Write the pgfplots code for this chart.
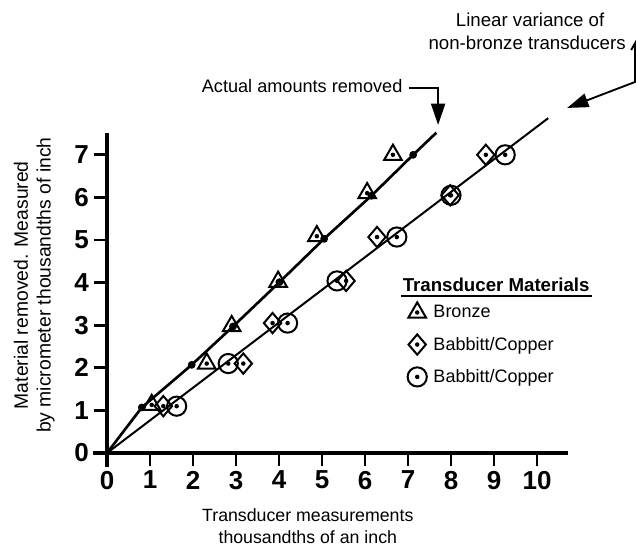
\documentclass[border=0pt]{standalone}
\usepackage{fontspec}
\setmainfont{Liberation Sans}
\usepackage{pgfplots}
\pgfplotsset{compat=1.18}
\usetikzlibrary{arrows.meta}

\pgfdeclareplotmark{tridot}{%
  \pgfpathmoveto{\pgfqpointpolar{90}{7.6pt}}%
  \pgfpathlineto{\pgfqpointpolar{210}{7.6pt}}%
  \pgfpathlineto{\pgfqpointpolar{330}{7.6pt}}%
  \pgfpathclose
  \pgfusepathqstroke
  \pgfpathcircle{\pgfpointorigin}{1.7pt}%
  \pgfusepathqfill
}
\pgfdeclareplotmark{diadot}{%
  \pgfpathmoveto{\pgfqpoint{0pt}{7.6pt}}%
  \pgfpathlineto{\pgfqpoint{6.5pt}{0pt}}%
  \pgfpathlineto{\pgfqpoint{0pt}{-7.6pt}}%
  \pgfpathlineto{\pgfqpoint{-6.5pt}{0pt}}%
  \pgfpathclose
  \pgfusepathqstroke
  \pgfpathcircle{\pgfpointorigin}{1.7pt}%
  \pgfusepathqfill
}
\pgfdeclareplotmark{circdot}{%
  \pgfpathcircle{\pgfpointorigin}{7.2pt}%
  \pgfusepathqstroke
  \pgfpathcircle{\pgfpointorigin}{1.7pt}%
  \pgfusepathqfill
}
\pgfplotsset{mkleg/.style={legend image code/.code={\draw[##1] plot coordinates {(0pt,0pt)};}}}

\begin{document}
\begin{tikzpicture}
\begin{axis}[
  x=32.25pt, y=31.95pt,
  xmin=-0.33, xmax=10.72, ymin=-0.33, ymax=7.51,
  axis lines=middle,
  axis line style={-, line width=2.3pt},
  xtick={0,1,...,10}, ytick={0,1,...,7},
  tick align=outside,
  major tick length=10pt,
  tick style={line width=2.1pt, black},
  hide obscured x ticks=false, hide obscured y ticks=false,
  ticklabel style={font=\bfseries\fontsize{19.5}{19.5}\selectfont},
  /pgf/number format/assume math mode=true,
  clip=false,
  legend style={draw=none, fill=none, at={(0.662,0.494)}, anchor=north west,
    font=\fontsize{13.5}{14}\selectfont, row sep=9pt, inner sep=0pt,
    /tikz/every odd column/.append style={column sep=3pt}},
  legend cell align=left,
]
% lines
\addplot[line width=2pt, black, forget plot] coordinates {(0,0)(0.81,1.07)(1.97,2.07)(2.93,2.97)(4.01,4.01)(5.05,5.03)(6.15,6.04)(7.12,7.0)(7.66,7.52)};
\addplot[line width=1.5pt, black, forget plot] coordinates {(0,0)(10.26,7.86)};
% actual amounts (filled dots)
\addplot[only marks, mark=*, mark size=2.7pt, black, forget plot] coordinates {(0.81,1.07)(1.97,2.07)(2.93,2.97)(4.01,4.01)(5.05,5.03)(6.15,6.04)(7.12,7.0)};
% bronze
\addplot[only marks, mark=tridot, black, line width=1.5pt, mkleg] coordinates {(1.04,1.13)(2.32,2.1)(2.9,2.98)(3.98,4.02)(4.88,5.09)(6.05,6.1)(6.65,7.0)};
\addlegendentry{Bronze}
% babbitt/copper diamond
\addplot[only marks, mark=diadot, black, line width=1.5pt, mkleg] coordinates {(1.31,1.1)(3.17,2.1)(3.85,3.05)(5.56,4.04)(6.28,5.07)(7.98,6.05)(8.81,7.0)};
\addlegendentry{Babbitt/Copper}
% babbitt/copper circle
\addplot[only marks, mark=circdot, black, line width=1.5pt, mkleg] coordinates {(1.62,1.1)(2.82,2.1)(4.2,3.05)(5.35,4.04)(6.74,5.07)(8.0,6.05)(9.26,7.0)};
\addlegendentry{Babbitt/Copper}

% axis titles
\node[align=center, font=\fontsize{13.3}{16.5}\selectfont] at (axis cs:4.67,-1.71) {Transducer measurements\\thousandths of an inch};
\node[rotate=90, align=center, font=\fontsize{14.5}{17}\selectfont] at (axis cs:-1.69,3.94) {Material removed. Measured\\by micrometer thousandths of inch};

% annotations
\node[anchor=east, font=\fontsize{13.6}{14}\selectfont] at (axis cs:6.98,8.62) {Actual amounts removed};
\draw[line width=1.4pt, -{Triangle[length=16pt,width=10.5pt]}] (axis cs:7.02,8.57) -- (axis cs:7.70,8.57) -- (axis cs:7.70,7.70);
\node[font=\fontsize{14}{14}\selectfont] at (axis cs:9.84,10.16) {Linear variance of};
\node[font=\fontsize{14}{14}\selectfont] at (axis cs:9.77,9.62) {non-bronze transducers};
\draw[line width=1.4pt, -{Triangle[length=16pt,width=10.5pt]}] (axis cs:12.19,9.46) -- (axis cs:12.28,9.62) -- (axis cs:12.28,8.71) -- (axis cs:10.70,8.10);

% legend title
\node[font=\bfseries\fontsize{14}{14}\selectfont] at (axis cs:9.05,3.94) {Transducer Materials};
\draw[line width=1.2pt] (axis cs:6.84,3.69) -- (axis cs:11.28,3.69);

\coordinate (bbl) at (axis cs:-2.488,-2.371);
\coordinate (btr) at (axis cs:12.302,10.634);
\end{axis}
\pgfresetboundingbox
\useasboundingbox (bbl) rectangle (btr);
\end{tikzpicture}
\end{document}
